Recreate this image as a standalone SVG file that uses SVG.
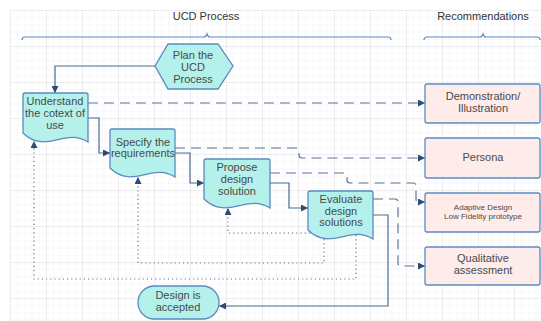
<svg xmlns="http://www.w3.org/2000/svg" width="541" height="321" viewBox="0 0 541 321">
<defs>
<pattern id="grid" x="10" y="10" width="7.2" height="7.2" patternUnits="userSpaceOnUse">
<path d="M0,0 H7.2 M0,0 V7.2" fill="none" stroke="#ececec" stroke-width="0.8"/>
</pattern>
<pattern id="grid5" x="10" y="10" width="36" height="36" patternUnits="userSpaceOnUse">
<path d="M0,0 H36 M0,0 V36" fill="none" stroke="#e0e0e0" stroke-width="0.8"/>
</pattern>
<marker id="ah" viewBox="0 0 10 10" refX="10" refY="5" markerWidth="7" markerHeight="7" markerUnits="userSpaceOnUse" orient="auto">
<path d="M0,0 L10,5 L0,10 Z" fill="#2d4c73"/>
</marker>
<style>
text{font-family:"Liberation Sans",Arial,sans-serif;font-size:11px;fill:#4a4a4a;text-anchor:middle}
.title{fill:#333333}
.node{fill:#b4f1ea;stroke:#5a8ac4;stroke-width:1.3}
.rec{fill:#fdecea;stroke:#5a8ac4;stroke-width:1.3}
.brace{fill:none;stroke:#5a8ac4;stroke-width:1.2}
.solid{fill:none;stroke:#4b6a93;stroke-width:1.2;marker-end:url(#ah)}
.dash{fill:none;stroke:#56759c;stroke-width:1.2;stroke-dasharray:10 6;marker-end:url(#ah)}
.dot{fill:none;stroke:#5a7aa3;stroke-width:1.2;stroke-dasharray:1.2 3;marker-end:url(#ah)}
.small{font-size:8px}
</style>
</defs>
<rect x="0" y="0" width="541" height="321" fill="#ffffff"/>
<rect x="10" y="10" width="531" height="311" fill="url(#grid)"/>
<rect x="10" y="10" width="531" height="311" fill="url(#grid5)"/>

<g id="titles">
<text class="title" x="206" y="20">UCD Process</text>
<text class="title" x="483" y="20">Recommendations</text>
<path class="brace" d="M22,40 Q22,37 25,37 H204 Q206,37 207,34 Q208,37 210,37 H388 Q391,37 391,40"/>
<path class="brace" d="M424,40 Q424,37 427,37 H480 Q482,37 483,34 Q484,37 486,37 H537 Q540,37 540,40"/>
</g>

<g id="connectors">
<path class="solid" d="M155,66 H55 V93"/>
<path class="solid" d="M88,118 H99 V153 H110"/>
<path class="solid" d="M175,153 H190 V183 H204"/>
<path class="solid" d="M270,183 H289 V208 H308"/>
<path class="solid" d="M373,215 H388 V306 H219"/>
<path class="dash" d="M88,103 H425"/>
<path class="dash" d="M175,148 H296 Q299,148 299,151 V155 Q299,158 302,158 H425"/>
<path class="dash" d="M270,173 H344 Q347,173 347,176 V180 Q347,183 350,183 H413 Q416,183 416,186 V199 Q416,202 419,202 H425"/>
<path class="dash" d="M373,199 H395 Q398,199 398,202 V263 Q398,266 401,266 H425"/>
<path class="dot" d="M373,233 H228 V208"/>
<path class="dot" d="M324,239 V263 H138 V177"/>
<path class="dot" d="M356,235 V279 H34 V141"/>
</g>

<g id="plan">
<path class="node" d="M155,66 L168,44 H218 L233,66 L218,89 H168 Z"/>
<text x="193" y="59">Plan the</text>
<text x="193" y="71">UCD</text>
<text x="193" y="83">Process</text>
</g>

<g id="understand">
<path class="node" d="M23,133 V95 Q23,93 25,93 H86 Q88,93 88,95 V142 C65.3,127 45.8,155 23,133 Z"/>
<text x="55" y="105">Understand</text>
<text x="55" y="117">the cotext of</text>
<text x="55" y="129">use</text>
</g>

<g id="specify">
<path class="node" d="M110,168 V131 Q110,129 112,129 H173 Q175,129 175,131 V177 C152.3,162 132.8,190 110,168 Z"/>
<text x="143" y="146">Specify the</text>
<text x="143" y="157">requirements</text>
</g>

<g id="propose">
<path class="node" d="M204,199 V161 Q204,159 206,159 H268 Q270,159 270,161 V208 C246.9,193 227.1,221 204,199 Z"/>
<text x="237" y="171">Propose</text>
<text x="237" y="183">design</text>
<text x="237" y="195">solution</text>
</g>

<g id="evaluate">
<path class="node" d="M308,230 V193 Q308,191 310,191 H371 Q373,191 373,193 V239 C350.3,224 330.8,252 308,230 Z"/>
<text x="341" y="203">Evaluate</text>
<text x="341" y="215">design</text>
<text x="341" y="226">solutions</text>
</g>

<g id="accepted">
<rect class="node" x="138" y="286" width="81" height="33" rx="16.5"/>
<text x="178" y="299">Design is</text>
<text x="178" y="311">accepted</text>
</g>

<g id="rec-demo">
<rect class="rec" x="425" y="84" width="115" height="39" rx="2"/>
<text x="483" y="100">Demonstration/</text>
<text x="483" y="112">Illustration</text>
</g>
<g id="rec-persona">
<rect class="rec" x="425" y="138" width="115" height="40" rx="2"/>
<text x="483" y="161">Persona</text>
</g>
<g id="rec-adaptive">
<rect class="rec" x="425" y="193" width="115" height="39" rx="2"/>
<text class="small" x="483" y="210">Adaptive Design</text>
<text class="small" x="483" y="219">Low Fidelity prototype</text>
</g>
<g id="rec-qual">
<rect class="rec" x="425" y="247" width="115" height="38" rx="2"/>
<text x="483" y="262">Qualitative</text>
<text x="483" y="274">assessment</text>
</g>
</svg>
